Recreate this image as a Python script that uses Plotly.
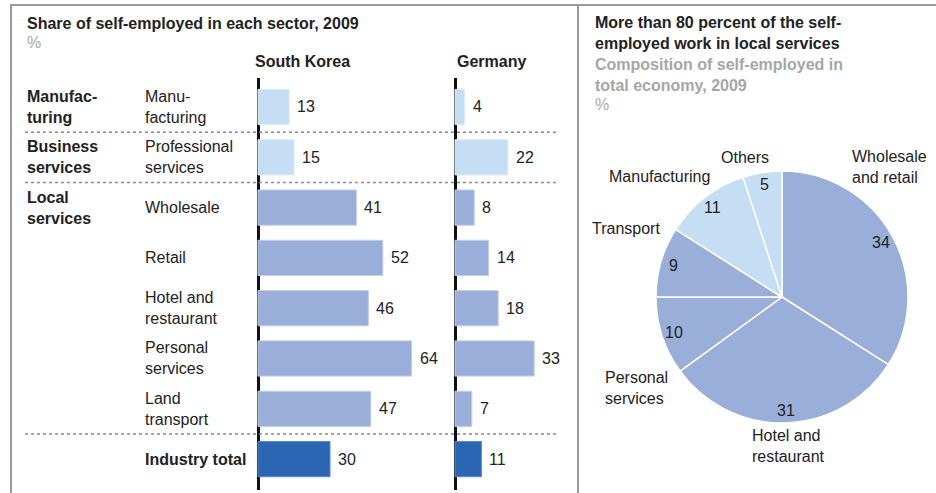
import numpy as np
import plotly.graph_objects as go

W, H = 936, 493
FONT = "Liberation Sans, Arial, sans-serif"
TXT = "#222222"
GRAY = "#A6A6A6"

# ---------------- data ----------------
group_labels = ["Manufac-<br>turing", "Business<br>services", "Local<br>services"]
group_rows = [0, 1, 2]
sectors = ["Manu-<br>facturing", "Professional<br>services", "Wholesale", "Retail",
           "Hotel and<br>restaurant", "Personal<br>services", "Land<br>transport",
           "<b>Industry total</b>"]
korea = [13, 15, 41, 52, 46, 64, 47, 30]
germany = [4, 22, 8, 14, 18, 33, 7, 11]
bar_tiers = ["light", "light", "mid", "mid", "mid", "mid", "mid", "dark"]

pie_labels = ["Wholesale<br>and retail", "Hotel and<br>restaurant", "Personal<br>services",
              "Transport", "Manufacturing", "Others"]
pie_values = [34, 31, 10, 9, 11, 5]
pie_tiers = ["mid", "mid", "mid", "mid", "light", "light"]

# ---------------- styles ----------------
fill = {"light": "#C6DEF3", "mid": "#99AED8", "dark": "#2A66B1"}
edge = {"light": "#DCEAF8", "mid": "#C2CDEA", "dark": "#5B88C9"}

def px(x):
    return x / W

def py(y):
    return 1 - y / H

rows = list(range(len(sectors)))

fig = go.Figure()

fig.add_trace(go.Bar(
    x=korea, y=rows, orientation="h", xaxis="x", yaxis="y", width=0.7,
    marker=dict(color=[fill[t] for t in bar_tiers],
                line=dict(color=[edge[t] for t in bar_tiers], width=1)),
    hoverinfo="skip", showlegend=False))
fig.add_trace(go.Bar(
    x=germany, y=rows, orientation="h", xaxis="x2", yaxis="y", width=0.7,
    marker=dict(color=[fill[t] for t in bar_tiers],
                line=dict(color=[edge[t] for t in bar_tiers], width=1)),
    hoverinfo="skip", showlegend=False))

# pie geometry (pixels)
pcx, pcy, pr = 782, 297, 126
fig.add_trace(go.Pie(
    values=pie_values, labels=[l.replace("<br>", " ") for l in pie_labels],
    sort=False, direction="clockwise", rotation=0,
    marker=dict(colors=[fill[t] for t in pie_tiers], line=dict(color="white", width=1.5)),
    textinfo="none", hoverinfo="skip", showlegend=False,
    domain=dict(x=[px(pcx - pr), px(pcx + pr)], y=[py(pcy + pr), py(pcy - pr)])))

ann = []

def text(x, y, s, size=16, color=TXT, xanchor="left", yanchor="middle", bold=False, **kw):
    if bold:
        s = "<b>" + s.replace("<br>", "</b><br><b>") + "</b>"
    d = dict(x=x, y=y, text=s, showarrow=False, xanchor=xanchor, yanchor=yanchor,
             align=kw.pop("align", "left"), font=dict(family=FONT, size=size, color=color))
    d.update(kw)
    ann.append(d)

# left panel titles
text(px(25), py(23), "Share of self-employed in each sector, 2009", bold=True, xref="paper", yref="paper")
text(px(25), py(43), "%", color=GRAY, xref="paper", yref="paper")
text(px(302), py(61), "South Korea", bold=True, xanchor="center", xref="paper", yref="paper")
text(px(491), py(61), "Germany", bold=True, xanchor="center", xref="paper", yref="paper")

for g, r in zip(group_labels, group_rows):
    text(px(25), r, g, bold=True, xref="paper", yref="y")
for s, r in zip(sectors, rows):
    text(px(143), r, s, xref="paper", yref="y")

for v, r in zip(korea, rows):
    text(v, r, str(v), xref="x", yref="y", xshift=6)
for v, r in zip(germany, rows):
    text(v, r, str(v), xref="x2", yref="y", xshift=6)

# right panel titles
text(px(593), py(33), "More than 80 percent of the self-<br>employed work in local services",
     bold=True, xref="paper", yref="paper")
text(px(593), py(75), "Composition of self-employed in<br>total economy, 2009",
     bold=True, color=GRAY, xref="paper", yref="paper")
text(px(593), py(105), "%", color=GRAY, xref="paper", yref="paper")

# pie value labels, placed along each slice's mid-angle
tot = sum(pie_values)
cum = np.cumsum([0] + pie_values)
for i, v in enumerate(pie_values):
    th = 2 * np.pi * (cum[i] + v / 2) / tot
    lx = pcx + 0.9 * pr * np.sin(th)
    ly = pcy - 0.9 * pr * np.cos(th)
    text(px(lx), py(ly), str(v), xanchor="center", xref="paper", yref="paper")

# pie category labels
pie_label_pos = [(850, 167, "left"), (750, 446, "left"), (603, 388, "left"),
                 (590, 228, "left"), (607, 176, "left"), (719, 157, "left")]
for lab, (x, y, xa) in zip(pie_labels, pie_label_pos):
    text(px(x), py(y), lab, xanchor=xa, xref="paper", yref="paper")

shapes = []
# panel frame
shapes.append(dict(type="path", xref="paper", yref="paper",
                   path=f"M {px(11)},{py(493)} L {px(11)},{py(5)} L {px(936)},{py(5)}",
                   line=dict(color="#9A9A9A", width=2)))
shapes.append(dict(type="line", xref="paper", yref="paper",
                   x0=px(578), x1=px(578), y0=py(5), y1=py(493),
                   line=dict(color="#9A9A9A", width=2)))
# dotted separators
for yy in [0.5, 1.5, 6.5]:
    shapes.append(dict(type="line", xref="paper", yref="y", x0=px(25), x1=px(557),
                       y0=yy, y1=yy, line=dict(color="#8C8C8C", width=1.5, dash="dot")))

ax_common = dict(showgrid=False, showticklabels=False, ticks="", showline=False,
                 zeroline=True, zerolinecolor="#111111", zerolinewidth=2.5, fixedrange=True)

ppu = 2.4  # pixels per percentage point
ypx = 50.3
y_top_row = 107
ylo, yhi = -0.58, 7.62
fig.update_layout(
    width=W, height=H, autosize=False,
    margin=dict(l=0, r=0, t=0, b=0),
    paper_bgcolor="white", plot_bgcolor="rgba(0,0,0,0)",
    barmode="overlay",
    xaxis=dict(range=[-2, 78], domain=[px(258 - 2 * ppu), px(258 + 78 * ppu)], anchor="y", **ax_common),
    xaxis2=dict(range=[-2, 48], domain=[px(455 - 2 * ppu), px(455 + 48 * ppu)], anchor="y", **ax_common),
    yaxis=dict(range=[yhi, ylo],
               domain=[py(y_top_row + yhi * ypx), py(y_top_row + ylo * ypx)],
               showgrid=False, showticklabels=False, ticks="", showline=False,
               zeroline=False, fixedrange=True),
    annotations=ann, shapes=shapes,
    font=dict(family=FONT, color=TXT),
)

fig.write_html("out.html", config={"displayModeBar": False},
               post_script="document.body.style.margin='0';document.body.style.overflow='hidden';")
